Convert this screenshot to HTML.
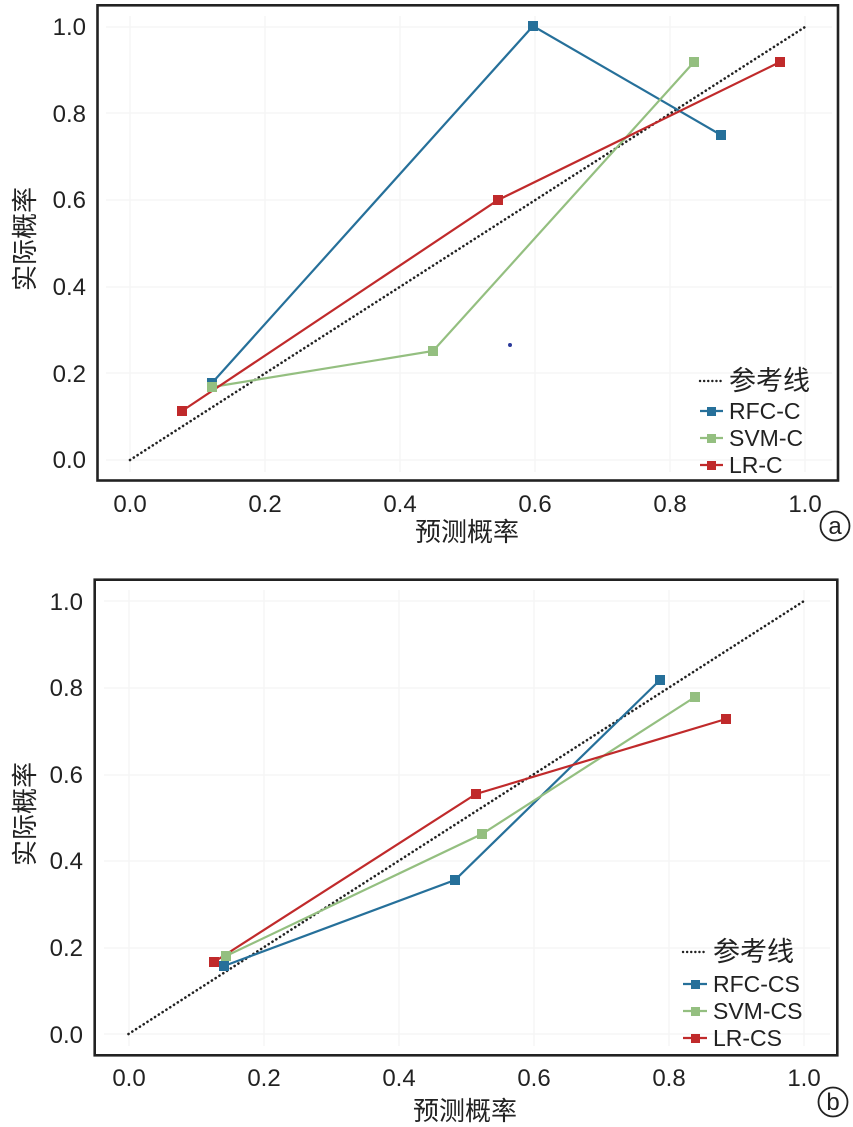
<!DOCTYPE html>
<html><head><meta charset="utf-8"><style>
html,body{margin:0;padding:0;background:#fff;}
svg{display:block;}
text{font-family:"Liberation Sans","Noto Sans CJK SC",sans-serif;fill:#222;}
.t{font-size:24px;}
.lg{font-size:23px;}
.cj{font-size:26px;font-family:"Noto Sans CJK SC","Liberation Sans",sans-serif;}
</style></head><body>
<svg width="853" height="1127" viewBox="0 0 853 1127" xmlns="http://www.w3.org/2000/svg">
<rect width="853" height="1127" fill="#fff"/>
<!-- ===== Panel a ===== -->
<g stroke="#f5f5f5" stroke-width="1.5">
<line x1="130" y1="16" x2="130" y2="472"/><line x1="265" y1="16" x2="265" y2="472"/><line x1="400" y1="16" x2="400" y2="472"/><line x1="535" y1="16" x2="535" y2="472"/><line x1="670" y1="16" x2="670" y2="472"/><line x1="805" y1="16" x2="805" y2="472"/>
<line x1="106" y1="27" x2="832" y2="27"/><line x1="106" y1="113" x2="832" y2="113"/><line x1="106" y1="200" x2="832" y2="200"/><line x1="106" y1="287" x2="832" y2="287"/><line x1="106" y1="373" x2="832" y2="373"/><line x1="106" y1="460" x2="832" y2="460"/>
</g>
<line x1="130" y1="460" x2="805" y2="27" stroke="#222" stroke-width="2.6" stroke-dasharray="0.1 4.4" stroke-linecap="round"/>
<polyline points="212,383 533,26 721,135" fill="none" stroke="#26709a" stroke-width="2.2"/>
<polyline points="212,387 433,351 694,62" fill="none" stroke="#94bf80" stroke-width="2.2"/>
<polyline points="182,411 498,200 780,62" fill="none" stroke="#c02a2b" stroke-width="2.2"/>
<g fill="#26709a"><rect x="207" y="378" width="10" height="10"/><rect x="528" y="21" width="10" height="10"/><rect x="716" y="130" width="10" height="10"/></g>
<g fill="#94bf80"><rect x="207" y="382" width="10" height="10"/><rect x="428" y="346" width="10" height="10"/><rect x="689" y="57" width="10" height="10"/></g>
<g fill="#c02a2b"><rect x="177" y="406" width="10" height="10"/><rect x="493" y="195" width="10" height="10"/><rect x="775" y="57" width="10" height="10"/></g>
<circle cx="510" cy="345" r="2" fill="#2b3a9a"/>
<rect x="97.5" y="5.3" width="740.5" height="475.2" fill="none" stroke="#222" stroke-width="2.6"/>
<g class="t" text-anchor="end">
<text x="86" y="35">1.0</text><text x="86" y="122">0.8</text><text x="86" y="208">0.6</text><text x="86" y="295">0.4</text><text x="86" y="382">0.2</text><text x="86" y="468">0.0</text>
</g>
<g class="t" text-anchor="middle">
<text x="130" y="512">0.0</text><text x="265" y="512">0.2</text><text x="400" y="512">0.4</text><text x="535" y="512">0.6</text><text x="670" y="512">0.8</text><text x="805" y="512">1.0</text>
</g>
<text class="cj" x="467" y="541" text-anchor="middle">预测概率</text>
<text class="cj" transform="translate(34,239) rotate(-90)" text-anchor="middle">实际概率</text>
<!-- legend a -->
<line x1="700" y1="381" x2="723" y2="381" stroke="#222" stroke-width="2.4" stroke-dasharray="0.1 4" stroke-linecap="round"/>
<text class="cj" x="729" y="390" style="font-size:27px">参考线</text>
<line x1="700" y1="411" x2="723" y2="411" stroke="#26709a" stroke-width="2.2"/><rect x="707" y="407" width="9" height="9" fill="#26709a"/>
<text class="lg" x="729" y="419">RFC-C</text>
<line x1="700" y1="438" x2="723" y2="438" stroke="#94bf80" stroke-width="2.2"/><rect x="707" y="434" width="9" height="9" fill="#94bf80"/>
<text class="lg" x="729" y="446">SVM-C</text>
<line x1="700" y1="465" x2="723" y2="465" stroke="#c02a2b" stroke-width="2.2"/><rect x="707" y="461" width="9" height="9" fill="#c02a2b"/>
<text class="lg" x="729" y="473">LR-C</text>
<circle cx="835" cy="526" r="14.5" fill="none" stroke="#222" stroke-width="1.8"/>
<text x="835" y="534" text-anchor="middle" style="font-size:24px">a</text>

<!-- ===== Panel b ===== -->
<g stroke="#f5f5f5" stroke-width="1.5">
<line x1="129" y1="590" x2="129" y2="1046"/><line x1="264" y1="590" x2="264" y2="1046"/><line x1="399" y1="590" x2="399" y2="1046"/><line x1="534" y1="590" x2="534" y2="1046"/><line x1="669" y1="590" x2="669" y2="1046"/><line x1="804" y1="590" x2="804" y2="1046"/>
<line x1="104" y1="601" x2="830" y2="601"/><line x1="104" y1="688" x2="830" y2="688"/><line x1="104" y1="775" x2="830" y2="775"/><line x1="104" y1="861" x2="830" y2="861"/><line x1="104" y1="948" x2="830" y2="948"/><line x1="104" y1="1034" x2="830" y2="1034"/>
</g>
<line x1="128.5" y1="1034" x2="804" y2="601" stroke="#222" stroke-width="2.6" stroke-dasharray="0.1 4.4" stroke-linecap="round"/>
<polyline points="224,966 455,880 660,680" fill="none" stroke="#26709a" stroke-width="2.2"/>
<polyline points="226,956 482,834 695,697" fill="none" stroke="#94bf80" stroke-width="2.2"/>
<polyline points="214,962 476,794 726,719" fill="none" stroke="#c02a2b" stroke-width="2.2"/>
<g fill="#94bf80"><rect x="221" y="951" width="10" height="10"/><rect x="477" y="829" width="10" height="10"/><rect x="690" y="692" width="10" height="10"/></g>
<g fill="#c02a2b"><rect x="209" y="957" width="10" height="10"/><rect x="471" y="789" width="10" height="10"/><rect x="721" y="714" width="10" height="10"/></g>
<g fill="#26709a"><rect x="219" y="961" width="10" height="10"/><rect x="450" y="875" width="10" height="10"/><rect x="655" y="675" width="10" height="10"/></g>
<rect x="94.7" y="579.7" width="742.6" height="475.6" fill="none" stroke="#222" stroke-width="2.6"/>
<g class="t" text-anchor="end">
<text x="83" y="610">1.0</text><text x="83" y="696">0.8</text><text x="83" y="783">0.6</text><text x="83" y="869">0.4</text><text x="83" y="956">0.2</text><text x="83" y="1043">0.0</text>
</g>
<g class="t" text-anchor="middle">
<text x="129" y="1086">0.0</text><text x="264" y="1086">0.2</text><text x="399" y="1086">0.4</text><text x="534" y="1086">0.6</text><text x="669" y="1086">0.8</text><text x="804" y="1086">1.0</text>
</g>
<text class="cj" x="465" y="1120" text-anchor="middle">预测概率</text>
<text class="cj" transform="translate(34,814) rotate(-90)" text-anchor="middle">实际概率</text>
<!-- legend b -->
<line x1="683" y1="952" x2="707" y2="952" stroke="#222" stroke-width="2.4" stroke-dasharray="0.1 4" stroke-linecap="round"/>
<text class="cj" x="713" y="961" style="font-size:27px">参考线</text>
<line x1="683" y1="984" x2="707" y2="984" stroke="#26709a" stroke-width="2.2"/><rect x="691" y="980" width="9" height="9" fill="#26709a"/>
<text class="lg" x="713" y="992">RFC-CS</text>
<line x1="683" y1="1011" x2="707" y2="1011" stroke="#94bf80" stroke-width="2.2"/><rect x="691" y="1007" width="9" height="9" fill="#94bf80"/>
<text class="lg" x="713" y="1019">SVM-CS</text>
<line x1="683" y1="1038" x2="707" y2="1038" stroke="#c02a2b" stroke-width="2.2"/><rect x="691" y="1034" width="9" height="9" fill="#c02a2b"/>
<text class="lg" x="713" y="1046">LR-CS</text>
<circle cx="833" cy="1102" r="14.5" fill="none" stroke="#222" stroke-width="1.8"/>
<text x="833" y="1110" text-anchor="middle" style="font-size:24px">b</text>
</svg>
</body></html>
